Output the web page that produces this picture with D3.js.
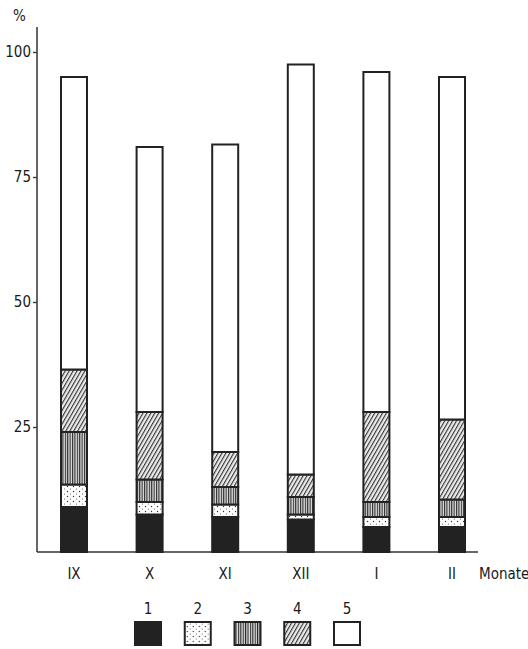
<!DOCTYPE html>
<html>
<head>
<meta charset="utf-8">
<script src="https://cdn.jsdelivr.net/npm/d3@7"></script>
<style>
  body { margin: 0; background: #fff; }
  text { font-family: "DejaVu Sans Condensed", "DejaVu Sans", sans-serif; fill: #1a1a1a; }
</style>
</head>
<body>
<svg id="chart" width="528" height="649"></svg>
<script>
(function(){
    "use strict";

    // months (Roman numerals) and the five stacked classes, in % per month
    const months = ["IX", "X", "XI", "XII", "I", "II"];
    const classes = ["1", "2", "3", "4", "5"];
    const class1 = [9, 7.5, 7, 6.5, 5, 5];
    const class2 = [4.5, 2.5, 2.5, 1, 2, 2];
    const class3 = [10.5, 4.5, 3.5, 3.5, 3, 3.5];
    const class4 = [12.5, 13.5, 7, 4.5, 18, 16];
    const class5 = [58.5, 53, 61.5, 82, 68, 68.5];
    const yTicks = [25, 50, 75, 100];

    const series = [class1, class2, class3, class4, class5];
    const rows = months.map((m, i) => {
        const r = { month: m };
        classes.forEach((c, k) => { r[c] = series[k][i]; });
        return r;
    });

    const svg = d3.select("#chart");

    // fill patterns, one per class
    const defs = svg.append("defs");

    defs.append("pattern").attr("id", "p2")
        .attr("patternUnits", "userSpaceOnUse").attr("width", 6).attr("height", 5)
        .call(p => {
            p.append("rect").attr("width", 6).attr("height", 5).attr("fill", "#fff");
            p.append("circle").attr("cx", 1.5).attr("cy", 1.5).attr("r", 0.7).attr("fill", "#333");
            p.append("circle").attr("cx", 4.5).attr("cy", 4).attr("r", 0.6).attr("fill", "#555");
        });

    defs.append("pattern").attr("id", "p3")
        .attr("patternUnits", "userSpaceOnUse").attr("width", 2.4).attr("height", 4)
        .call(p => {
            p.append("rect").attr("width", 2.4).attr("height", 4).attr("fill", "#ddd");
            p.append("rect").attr("x", 0).attr("width", 1.1).attr("height", 4).attr("fill", "#2a2a2a");
        });

    defs.append("pattern").attr("id", "p4")
        .attr("patternUnits", "userSpaceOnUse").attr("width", 3.4).attr("height", 4)
        .attr("patternTransform", "rotate(30)")
        .call(p => {
            p.append("rect").attr("width", 3.4).attr("height", 4).attr("fill", "#eaeaea");
            p.append("rect").attr("width", 1.1).attr("height", 4).attr("fill", "#333");
        });

    const fills = {"1": "#222", "2": "url(#p2)", "3": "url(#p3)", "4": "url(#p4)", "5": "#fff"};

    // scales
    const y = d3.scaleLinear().domain([0, 100]).range([552, 52]);
    const x = d3.scalePoint().domain(months).range([74, 452]);
    const barW = 26;

    // y axis
    const yAxis = svg.append("g")
        .attr("transform", "translate(37,0)")
        .call(d3.axisLeft(y).tickValues(yTicks).tickSize(4).tickPadding(2));
    yAxis.select(".domain").remove();
    yAxis.selectAll("text").style("font-size", "15px").attr("fill", "#1a1a1a");
    yAxis.selectAll("line").attr("stroke", "#333").attr("stroke-width", 1.3);
    svg.append("line")
        .attr("x1", 37).attr("x2", 37)
        .attr("y1", y(105)).attr("y2", y(0))
        .attr("stroke", "#333").attr("stroke-width", 1.5);
    svg.append("text").attr("x", 13).attr("y", 21)
        .style("font-size", "15px").text("%");

    // x axis
    svg.append("line")
        .attr("x1", 37).attr("x2", 478)
        .attr("y1", y(0)).attr("y2", y(0))
        .attr("stroke", "#333").attr("stroke-width", 1.5);
    svg.append("g").selectAll("text")
        .data(months).join("text")
        .attr("x", d => x(d)).attr("y", 579)
        .attr("text-anchor", "middle")
        .style("font-size", "15px")
        .text(d => d);
    svg.append("text").attr("x", 479).attr("y", 579)
        .style("font-size", "15px").text("Monate");

    // stacked bars
    const stack = d3.stack().keys(classes)(rows);
    svg.append("g").selectAll("g")
        .data(stack).join("g")
        .attr("fill", d => fills[d.key])
        .selectAll("rect")
        .data(d => d).join("rect")
        .attr("x", d => x(d.data.month) - barW / 2)
        .attr("width", barW)
        .attr("y", d => y(d[1]))
        .attr("height", d => y(d[0]) - y(d[1]))
        .attr("stroke", "#222").attr("stroke-width", 2);

    // legend
    const lx = d3.scalePoint().domain(classes).range([148, 347]);
    const lg = svg.append("g").selectAll("g")
        .data(classes).join("g")
        .attr("transform", d => `translate(${lx(d)},0)`);
    lg.append("text").attr("y", 614).attr("text-anchor", "middle")
        .style("font-size", "15px").text(d => d);
    lg.append("rect").attr("x", -13).attr("y", 622)
        .attr("width", 26).attr("height", 23)
        .attr("fill", d => fills[d])
        .attr("stroke", "#222").attr("stroke-width", 2);
})();
</script>
</body>
</html>
